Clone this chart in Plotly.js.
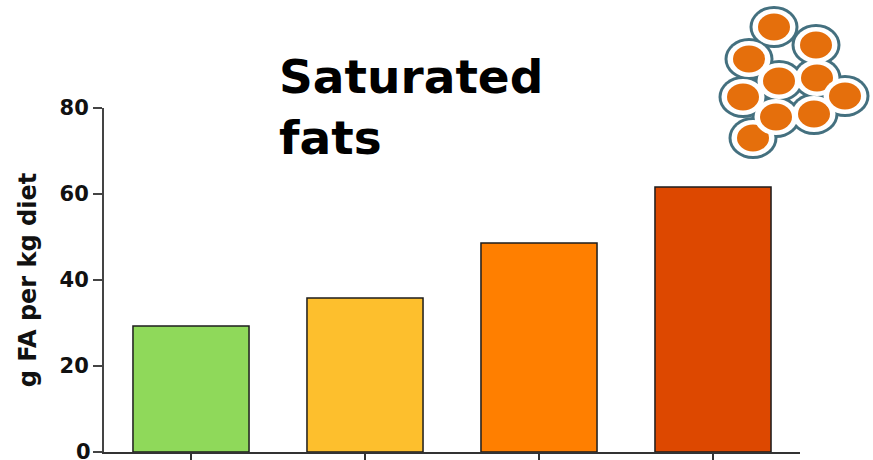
<!DOCTYPE html>
<html>
<head>
<meta charset="utf-8">
<script src="https://cdn.plot.ly/plotly-3.0.1.min.js"></script>
<style>html,body{margin:0;padding:0;background:#fff}#chart{width:873px;height:460px}</style>
</head>
<body>
<div id="chart"></div>
<script>
// Fat content of each diet group
const groups = [1, 2, 3, 4];
const fatValues = [29.3, 35.8, 48.6, 61.6];
const barColors = ['#8fd95a', '#fdbf2d', '#ff7f00', '#dd4800'];
const yTicks = [0, 20, 40, 60, 80];

// Droplet cluster emblem, listed back to front (page pixels)
const cellX = [753, 776, 814, 817, 845, 743, 779, 749, 816, 774];
const cellY = [138, 117, 114, 78, 96, 97, 81, 59, 45, 27];
const cellEdge = [24.5, 21];
const cellHalo = [21.5, 18];
const cellCore = [16, 13.5];

const W = 873, H = 460;
const margin = {l: 104, r: 73, t: 108, b: 8, pad: 0};
const plotW = W - margin.l - margin.r, plotH = H - margin.t - margin.b;
const px = x => (x - margin.l) / plotW;
const py = y => 1 - (y - margin.t) / plotH;

function ellipse(cx, cy, r, fill) {
  return {
    type: 'circle', xref: 'paper', yref: 'paper', layer: 'above',
    x0: px(cx - r[0]), x1: px(cx + r[0]), y0: py(cy + r[1]), y1: py(cy - r[1]),
    fillcolor: fill, line: {width: 0}
  };
}

// The teal edges go down first so that only the cluster's outline stays visible
const shapes = cellX.map((cx, i) => ellipse(cx, cellY[i], cellEdge, '#44707f'));
cellX.forEach((cx, i) => {
  shapes.push(ellipse(cx, cellY[i], cellHalo, '#ffffff'));
  shapes.push(ellipse(cx, cellY[i], cellCore, '#e56f0c'));
});

const font = 'DejaVu Sans, Verdana, sans-serif';

Plotly.newPlot('chart', [{
  type: 'bar',
  x: groups,
  y: fatValues,
  width: 0.667,
  marker: {color: barColors, line: {color: '#1c1c1c', width: 1.5}},
  hoverinfo: 'y'
}], {
  width: W, height: H, margin,
  paper_bgcolor: '#ffffff', plot_bgcolor: '#ffffff',
  showlegend: false,
  title: {
    text: 'Saturated<br>fats',
    x: 279 / W, xref: 'container', xanchor: 'left',
    y: 1 - 92.5 / H, yref: 'container', yanchor: 'middle',
    font: {family: font, size: 47, color: '#000', weight: 700}
  },
  xaxis: {
    range: [0.5, 4.5], tickmode: 'array', tickvals: groups, showticklabels: false,
    ticks: 'outside', ticklen: 8, tickwidth: 1.5, tickcolor: '#333',
    showline: true, linecolor: '#333', linewidth: 1.5, showgrid: false, zeroline: false, fixedrange: true
  },
  yaxis: {
    range: [0, 80], tickmode: 'array', tickvals: yTicks,
    ticks: 'outside', ticklen: 9, tickwidth: 1.5, tickcolor: '#444',
    tickfont: {family: font, size: 21, color: '#111', weight: 700},
    showline: true, linecolor: '#444', linewidth: 2, showgrid: false, zeroline: false, fixedrange: true,
    title: {text: 'g FA per kg diet', standoff: 16, font: {family: font, size: 24, color: '#111', weight: 700}}
  },
  // The lowest tick label runs past the page edge, so it is placed as an annotation
  annotations: [{
    xref: 'paper', yref: 'y', x: px(92), y: yTicks[0], xanchor: 'right', yanchor: 'middle',
    text: String(yTicks[0]), showarrow: false, borderpad: 0,
    font: {family: font, size: 21, color: '#111', weight: 700}
  }],
  shapes
}, {displayModeBar: false, staticPlot: true});
</script>
</body>
</html>
